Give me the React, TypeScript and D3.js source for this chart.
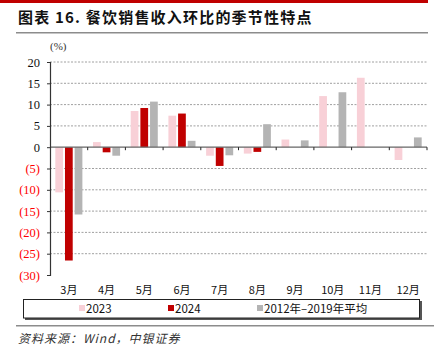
import { useRef, useEffect } from 'react'
import * as d3 from 'd3'

const months = ['3月', '4月', '5月', '6月', '7月', '8月', '9月', '10月', '11月', '12月']
const series2023 = [-10.6, 1.2, 8.5, 7.4, -2.0, -1.5, 1.8, 12.0, 16.3, -3.0]
const series2024 = [-26.6, -1.2, 9.2, 7.9, -4.4, -1.1, 0, 0, 0, 0]
const seriesAvg = [-15.8, -2.0, 10.7, 1.5, -1.9, 5.4, 1.6, 12.9, 0, 2.3]
const seriesNames = ['2023', '2024', '2012年–2019年平均']
const seriesColors = ['#f8d0d7', '#c00000', '#b4b4b4']
const yTicks = [20, 15, 10, 5, 0, -5, -10, -15, -20, -25, -30]

const App = () => {
  const svgRef = useRef<SVGSVGElement>(null)

  useEffect(() => {
    const svg = d3.select(svgRef.current)
    svg.selectAll('*').remove()

    const margin = { top: 62, right: 7, bottom: 76, left: 50 }
    const width = 434
    const innerWidth = width - margin.left - margin.right
    const innerHeight = 275 - margin.top

    // header
    svg.append('rect').attr('x', 0).attr('y', 0).attr('width', 428).attr('height', 3).attr('fill', '#c00000')
    svg
      .append('text')
      .text('图表 16. 餐饮销售收入环比的季节性特点')
      .attr('x', 18)
      .attr('y', 23)
      .attr('font-family', '"Noto Sans CJK SC", sans-serif')
      .attr('font-weight', 'bold')
      .attr('font-size', 15)
      .attr('letter-spacing', 1.2)
      .attr('fill', '#111')
    svg.append('rect').attr('x', 16).attr('y', 32).attr('width', 412).attr('height', 1.5).attr('fill', '#8c8c8c')

    const g = svg.append('g').attr('transform', `translate(${margin.left},${margin.top})`)

    const x = d3.scaleBand().domain(months).range([0, innerWidth]).padding(0)
    const sub = d3.scaleBand().domain(seriesNames).range([0, x.bandwidth()]).paddingInner(0.2).paddingOuter(0.55)
    const y = d3.scaleLinear().domain([-30, 20]).range([innerHeight, 0])

    // grid
    g.selectAll('.grid')
      .data(yTicks.filter((d) => d !== 0 && d !== -30))
      .join('line')
      .attr('x1', 0)
      .attr('x2', innerWidth)
      .attr('y1', (d) => y(d))
      .attr('y2', (d) => y(d))
      .attr('stroke', '#888')
      .attr('stroke-width', 0.8)
      .attr('stroke-dasharray', '2,1.5')

    const data = [series2023, series2024, seriesAvg]
    data.forEach((vals, si) => {
      g.append('g')
        .selectAll('rect')
        .data(vals)
        .join('rect')
        .attr('x', (_, i) => (x(months[i]) ?? 0) + (sub(seriesNames[si]) ?? 0))
        .attr('width', sub.bandwidth())
        .attr('y', (d) => y(Math.max(0, d)))
        .attr('height', (d) => Math.abs(y(d) - y(0)))
        .attr('fill', seriesColors[si])
    })

    // zero line + x ticks
    g.append('line')
      .attr('x1', 0)
      .attr('x2', innerWidth)
      .attr('y1', y(0))
      .attr('y2', y(0))
      .attr('stroke', '#666')
      .attr('stroke-width', 1.3)
    g.selectAll('.xt')
      .data(months)
      .join('line')
      .attr('x1', (_, i) => x.step() * (i + 1))
      .attr('x2', (_, i) => x.step() * (i + 1))
      .attr('y1', y(0))
      .attr('y2', y(0) + 3)
      .attr('stroke', '#222')

    // y axis
    const yAxis = d3.axisLeft(y).tickValues(yTicks).tickSize(3).tickFormat((d) => {
      const v = +d
      return v < 0 ? `(${-v})` : `${v}`
    })
    const ya = g.append('g').call(yAxis)
    ya.select('.domain').attr('stroke', '#333').attr('stroke-width', 1.2)
    ya.selectAll('.tick line').attr('stroke', '#333')
    ya.selectAll('.tick text')
      .attr('x', -10)
      .attr('font-family', '"Liberation Serif", "Times New Roman", serif')
      .attr('font-size', 12.5)
      .attr('fill', (d) => (+d < 0 ? '#ff0000' : '#111'))

    g.append('text')
      .text('(%)')
      .attr('x', 0)
      .attr('y', -12)
      .attr('font-family', '"Liberation Serif", serif')
      .attr('font-size', 11)
      .attr('fill', '#333')

    // x labels
    g.selectAll('.xl')
      .data(months)
      .join('text')
      .text((d) => d)
      .attr('x', (d) => (x(d) ?? 0) + x.bandwidth() / 2)
      .attr('y', innerHeight + 19)
      .attr('text-anchor', 'middle')
      .attr('font-family', '"Noto Sans CJK SC", sans-serif')
      .attr('font-size', 11)
      .attr('fill', '#111')

    // legend
    svg.append('rect').attr('x', 25).attr('y', 301).attr('width', 397).attr('height', 19).attr('fill', '#555')
    svg
      .append('rect')
      .attr('x', 23.5)
      .attr('y', 299.5)
      .attr('width', 396)
      .attr('height', 18.5)
      .attr('fill', '#fff')
      .attr('stroke', '#222')
      .attr('stroke-width', 1)
    const legendX = [79, 168, 257]
    seriesNames.forEach((name, i) => {
      svg.append('rect').attr('x', legendX[i]).attr('y', 305).attr('width', 6).attr('height', 6).attr('fill', seriesColors[i])
      svg
        .append('text')
        .text(name)
        .attr('x', legendX[i] + 7)
        .attr('y', 313)
        .attr('font-family', '"Noto Sans CJK SC", sans-serif')
        .attr('font-size', 11.5)
        .attr('fill', '#111')
    })

    svg.append('rect').attr('x', 16).attr('y', 325).attr('width', 418).attr('height', 1.5).attr('fill', '#8c8c8c')
    svg
      .append('text')
      .text('资料来源：Wind，中银证券')
      .attr('x', 18)
      .attr('y', 343)
      .attr('font-family', '"Noto Sans CJK SC", sans-serif')
      .attr('font-style', 'italic')
      .attr('font-size', 12)
      .attr('letter-spacing', 1)
      .attr('fill', '#333')
  }, [])

  return (
    <svg
      ref={svgRef}
      width={434}
      height={351}
      style={{ position: 'absolute', left: 0, top: 0, background: '#fff' }}
    ></svg>
  )
}

export default App
